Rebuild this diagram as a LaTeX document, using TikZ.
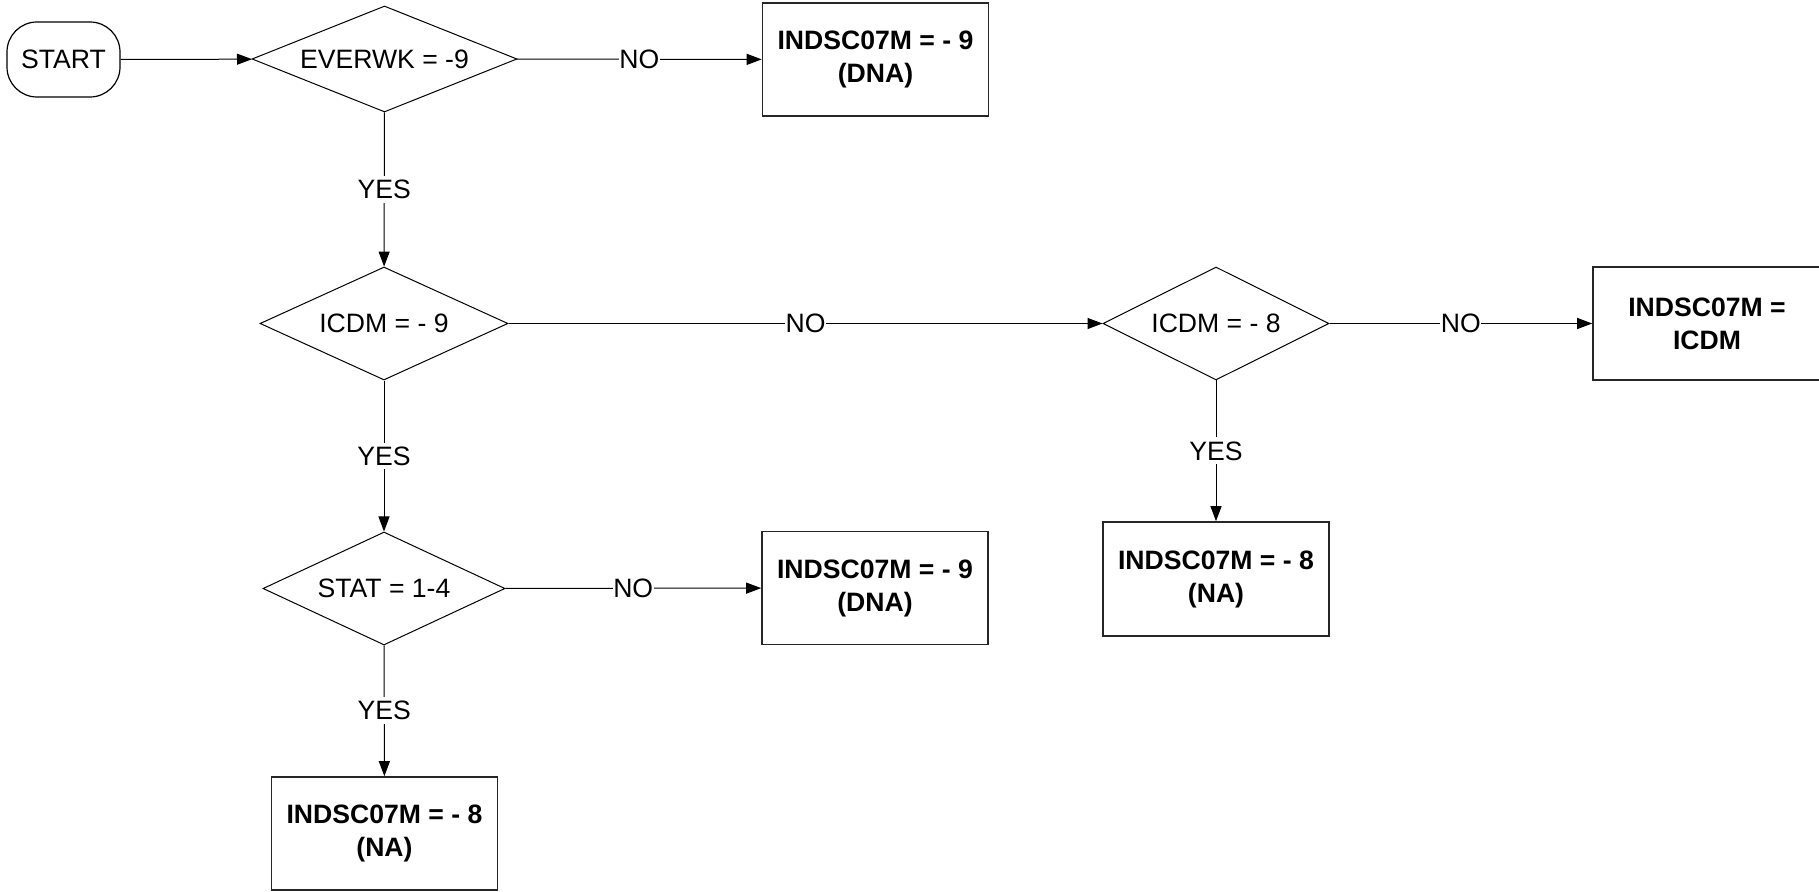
\documentclass[tikz,border=0pt]{standalone}
\usepackage{fontspec}
\setmainfont{Liberation Sans}
\usetikzlibrary{shapes.geometric,arrows.meta}
\begin{document}
\begin{tikzpicture}[x=0.5pt,y=-0.5pt,
  every node/.style={font=\fontsize{13.3pt}{16.5pt}\selectfont},
  startbox/.style={draw,rounded corners=15pt,line width=0.6pt,minimum width=56.5pt,minimum height=37.5pt,inner sep=0pt},
  decision/.style={draw,diamond,aspect=2.5,inner sep=0pt,line width=0.5pt},
  result/.style={draw,line width=0.8pt,draw=black!85,inner sep=0pt,minimum width=113pt,minimum height=56.5pt,align=center,font=\fontsize{13.3pt}{16.5pt}\selectfont\bfseries},
  conn/.style={line width=0.5pt,-{Triangle[length=7.5pt,width=5.5pt]}},
  lbl/.style={fill=white,inner xsep=0.3pt,inner ysep=2pt}]
\useasboundingbox (0,0) rectangle (1819,892);
\node[startbox] (start) at (63.5,59.5) {START};
\node[decision,minimum width=132.5pt,minimum height=53pt] (d1) at (384.5,59) {EVERWK = -9};
\node[result] (b1) at (875.5,59.5) {INDSC07M = - 9\\(DNA)};
\node[decision,minimum width=124pt,minimum height=56.5pt] (d2) at (384,323.5) {ICDM = - 9};
\node[decision,minimum width=113pt,minimum height=56.5pt] (d3) at (1216,323.5) {ICDM = - 8};
\node[result,minimum width=114pt] (b2) at (1707,323.5) {INDSC07M =\\ICDM};
\node[result,minimum height=57pt] (b3) at (1216,579) {INDSC07M = - 8\\(NA)};
\node[decision,minimum width=121pt,minimum height=56.5pt] (d4) at (384,588.5) {STAT = 1-4};
\node[result] (b4) at (875,588) {INDSC07M = - 9\\(DNA)};
\node[result] (b5) at (384.5,833.5) {INDSC07M = - 8\\(NA)};
\draw[conn] (start) -- (d1);
\draw[conn] (d1) -- node[lbl] {NO} (b1);
\draw[conn] (d1) -- node[lbl] {YES} (d2);
\draw[conn] (d2) -- node[lbl] {NO} (d3);
\draw[conn] (d3) -- node[lbl] {NO} (b2);
\draw[conn] (d3) -- node[lbl] {YES} (b3);
\draw[conn] (d2) -- node[lbl] {YES} (d4);
\draw[conn] (d4) -- node[lbl] {NO} (b4);
\draw[conn] (d4) -- node[lbl] {YES} (b5);
\end{tikzpicture}
\end{document}
